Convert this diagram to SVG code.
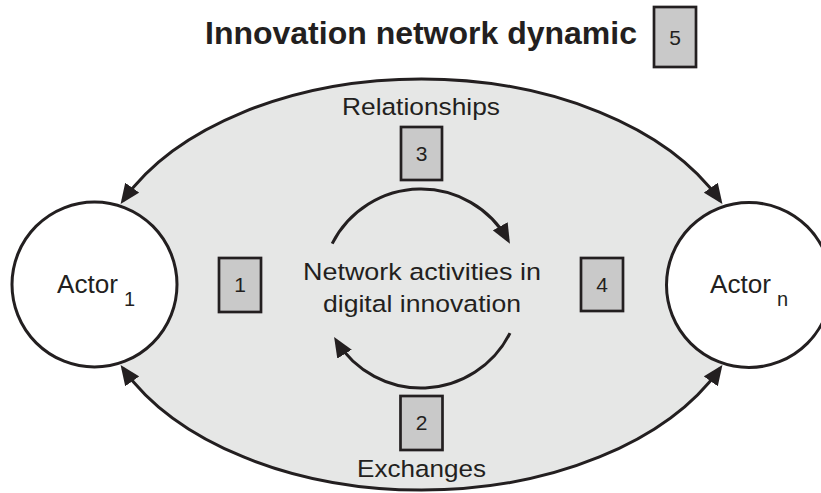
<svg xmlns="http://www.w3.org/2000/svg" width="821" height="493" viewBox="0 0 821 493">
<style>
text{font-family:"Liberation Sans",Arial,sans-serif;fill:#231f20}
.lbl{font-size:24.5px;text-anchor:middle}
.num{font-size:21px;text-anchor:middle}
.sub{font-size:20px}
.box{fill:#c9c9c9;stroke:#231f20;stroke-width:2.7}
.actor{fill:#ffffff;stroke:#231f20;stroke-width:3}
.conn{fill:none;stroke:#231f20;stroke-width:3}
</style>
<defs>
<marker id="ah" markerUnits="userSpaceOnUse" markerWidth="20" markerHeight="18" refX="16" refY="9" orient="auto-start-reverse">
<path d="M0,0.5 L20,9 L0,17.5 z" fill="#231f20"/>
</marker>
</defs>
<rect width="821" height="493" fill="#ffffff"/>
<g id="network">
<ellipse cx="421.5" cy="284.5" rx="327" ry="205.5" fill="#e6e7e6"/>
</g>
<g id="title">
<text x="421" y="44" font-size="32" font-weight="bold" text-anchor="middle" textLength="432" lengthAdjust="spacingAndGlyphs">Innovation network dynamic</text>
</g>
<g id="box5">
<rect class="box" x="654" y="7" width="42" height="60"/>
<text class="num" x="675" y="45">5</text>
</g>
<g id="actor1">
<circle class="actor" cx="94.5" cy="284.5" r="82.5"/>
<text x="57" y="293" font-size="25" textLength="61" lengthAdjust="spacingAndGlyphs">Actor</text>
<text class="sub" x="124" y="306">1</text>
</g>
<g id="actorN">
<circle class="actor" cx="749" cy="285" r="82.5"/>
<text x="710" y="293" font-size="25" textLength="61" lengthAdjust="spacingAndGlyphs">Actor</text>
<text class="sub" x="777" y="306">n</text>
</g>
<g id="relationships">
<text class="lbl" x="421" y="115" textLength="158" lengthAdjust="spacingAndGlyphs">Relationships</text>
</g>
<g id="box3">
<rect class="box" x="401" y="127" width="41" height="53"/>
<text class="num" x="421.5" y="161">3</text>
</g>
<g id="box1">
<rect class="box" x="219" y="258" width="42" height="54"/>
<text class="num" x="240" y="292">1</text>
</g>
<g id="box4">
<rect class="box" x="581" y="258" width="42" height="53"/>
<text class="num" x="602" y="292">4</text>
</g>
<g id="activities">
<text class="lbl" x="422" y="280" textLength="238" lengthAdjust="spacingAndGlyphs">Network activities in</text>
<text class="lbl" x="422" y="311.5" textLength="198" lengthAdjust="spacingAndGlyphs">digital innovation</text>
</g>
<g id="box2">
<rect class="box" x="400.5" y="396" width="42" height="54"/>
<text class="num" x="421.5" y="430">2</text>
</g>
<g id="exchanges">
<text class="lbl" x="421.5" y="477" textLength="129" lengthAdjust="spacingAndGlyphs">Exchanges</text>
</g>
<g id="connectors">
<path class="conn" d="M122.9,200.7 A327,205.5 0 0 1 720.1,200.7" marker-start="url(#ah)" marker-end="url(#ah)"/>
<path class="conn" d="M122.9,368.3 A327,205.5 0 0 0 720.1,368.3" marker-start="url(#ah)" marker-end="url(#ah)"/>
<path class="conn" d="M332.2,243.6 A99.5,99.5 0 0 1 508,240.3" marker-end="url(#ah)"/>
<path class="conn" d="M510,333.1 A99.5,99.5 0 0 1 336.2,340.5" marker-end="url(#ah)"/>
</g>
</svg>
